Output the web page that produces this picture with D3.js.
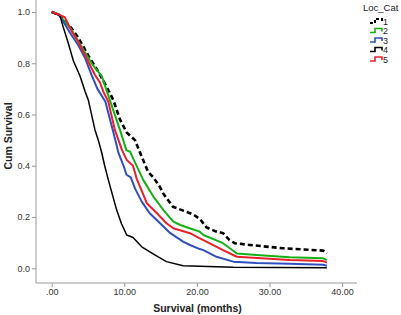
<!DOCTYPE html>
<html>
<head>
<meta charset="utf-8">
<script src="https://cdn.jsdelivr.net/npm/d3@7"></script>
<style>
  body { margin: 0; background: #fff; }
  svg { display: block; font-family: "Liberation Sans", Arial, sans-serif; }
</style>
</head>
<body>
<svg id="chart" width="401" height="315"></svg>
<script>
// Kaplan-Meier curves, months vs cum survival

let categories = ['1', '2', '3', '4', '5']
let colors = ['#000000', '#14b014', '#2f4fbf', '#000000', '#e8202c']

let xTicks = [0, 10, 20, 30, 40]
let xTickLabels = ['.00', '10.00', '20.00', '30.00', '40.00']
let yTicks = [0, 0.2, 0.4, 0.6, 0.8, 1.0]
let yTickLabels = ['0.0', '0.2', '0.4', '0.6', '0.8', '1.0']

let cat1 = [
  [0, 1], [1, 0.99], [2.75, 0.936], [3.66, 0.9], [5.04, 0.83], [6.42, 0.767],
  [7.34, 0.72], [8.48, 0.657], [9.41, 0.58], [10.33, 0.53], [11.47, 0.5],
  [12.4, 0.435], [13.3, 0.375], [14.0, 0.355], [14.9, 0.318], [15.4, 0.29],
  [16.7, 0.24], [18.6, 0.22], [19.5, 0.21], [20.5, 0.19], [21.3, 0.16],
  [22.5, 0.145], [23.6, 0.137], [24.5, 0.11], [25.2, 0.098], [27.3, 0.091],
  [31.9, 0.078], [37.4, 0.069], [37.9, 0.058]
]
let cat2 = [
  [0, 1], [1, 0.99], [2.75, 0.93], [4, 0.87], [5.5, 0.8], [6.9, 0.75],
  [8.0, 0.657], [9.4, 0.54], [10.3, 0.46], [10.8, 0.455], [11.2, 0.43],
  [12.6, 0.345], [14.0, 0.28], [15.4, 0.227], [16.75, 0.182], [17.7, 0.169],
  [19.0, 0.156], [20.4, 0.143], [20.9, 0.13], [23.6, 0.098], [25.5, 0.058],
  [28.2, 0.052], [32.8, 0.043], [37.4, 0.039], [37.9, 0.032]
]
let cat3 = [
  [0, 1], [1, 0.99], [2.5, 0.92], [3.66, 0.87], [4.6, 0.82], [5.5, 0.754],
  [6.3, 0.7], [7.4, 0.65], [8.5, 0.53], [9.2, 0.45], [9.9, 0.4],
  [10.3, 0.365], [10.9, 0.355], [11.5, 0.31], [12.4, 0.26], [13.5, 0.215],
  [14.9, 0.177], [16.3, 0.138], [18.1, 0.104], [19.05, 0.091], [20.4, 0.075],
  [20.9, 0.071], [22.7, 0.045], [25, 0.026], [28.2, 0.021], [32.8, 0.018],
  [37.4, 0.014], [37.9, 0.01]
]
let cat4 = [
  [0, 1], [1.14, 0.985], [1.6, 0.94], [2.3, 0.877], [2.98, 0.81], [3.9, 0.75],
  [4.6, 0.69], [5.04, 0.657], [5.96, 0.54], [6.42, 0.5], [6.9, 0.45],
  [7.3, 0.4], [7.8, 0.345], [8.95, 0.227], [9.6, 0.175], [10.33, 0.13],
  [11.2, 0.12], [12.4, 0.084], [14.2, 0.052], [15.8, 0.026], [18.1, 0.01],
  [25, 0.004], [37.9, 0.002]
]
let cat5 = [
  [0, 1], [1, 0.99], [1.8, 0.98], [2.75, 0.925], [3.66, 0.884], [4.8, 0.82],
  [5.96, 0.754], [6.65, 0.725], [7.1, 0.69], [7.8, 0.65], [8.7, 0.54],
  [9.7, 0.46], [10.33, 0.423], [11.2, 0.4], [11.7, 0.35], [13.1, 0.254],
  [14.5, 0.215], [15.8, 0.176], [16.75, 0.156], [19.05, 0.137], [20.4, 0.117],
  [20.9, 0.11], [23.6, 0.071], [25.5, 0.045], [32.8, 0.032], [37.4, 0.028],
  [37.9, 0.022]
]

let series = [cat1, cat2, cat3, cat4, cat5]

let svg = d3.select('#chart')

let x = d3.scaleLinear().domain([0, 40]).range([51.7, 342.1])
let y = d3.scaleLinear().domain([0, 1]).range([268.3, 12])

let axisColor = '#9a9a9a'
let textColor = '#333'

// axis frame lines
svg.append('line')
  .attr('x1', 36).attr('x2', 36)
  .attr('y1', 0).attr('y2', 283)
  .style('stroke', axisColor)
svg.append('line')
  .attr('x1', 36).attr('x2', 357)
  .attr('y1', 283).attr('y2', 283)
  .style('stroke', axisColor)

// x axis
let xAxis = svg.append('g')
  .attr('transform', 'translate(0, 283)')
  .call(d3.axisBottom(x)
    .tickValues(xTicks)
    .tickFormat((d, i) => xTickLabels[i])
    .tickSize(4)
    .tickSizeOuter(0))
xAxis.select('.domain').remove()
xAxis.selectAll('line').style('stroke', axisColor)
xAxis.selectAll('text')
  .attr('dy', null).attr('y', 12)
  .style('font-size', '9px').style('fill', textColor)
  .style('font-family', '"Liberation Sans", Arial, sans-serif')

// y axis
let yAxis = svg.append('g')
  .attr('transform', 'translate(36, 0)')
  .call(d3.axisLeft(y)
    .tickValues(yTicks)
    .tickFormat((d, i) => yTickLabels[i])
    .tickSize(4)
    .tickSizeOuter(0))
yAxis.select('.domain').remove()
yAxis.selectAll('line').style('stroke', axisColor)
yAxis.selectAll('text')
  .attr('x', -6)
  .style('font-size', '9px').style('fill', textColor)
  .style('font-family', '"Liberation Sans", Arial, sans-serif')

// axis titles
svg.append('text')
  .attr('x', 197.5).attr('y', 311.5)
  .attr('text-anchor', 'middle')
  .style('font-size', '10.5px').style('font-weight', 'bold').style('fill', '#222')
  .text('Survival (months)')

svg.append('text')
  .attr('transform', 'translate(11.5, 136) rotate(-90)')
  .attr('text-anchor', 'middle')
  .style('font-size', '10.5px').style('font-weight', 'bold').style('fill', '#222')
  .text('Cum Survival')

// curves
let line = d3.line(d => x(d[0]), d => y(d[1]))

svg.append('g')
  .attr('id', 'curves')
  .selectAll('path')
  .data(series)
  .join('path')
  .attr('d', line)
  .style('fill', 'none')
  .style('stroke', (d, i) => colors[i])
  .style('stroke-width', (d, i) => i === 0 ? 2.6 : (i === 3 ? 1.5 : 2))
  .style('stroke-dasharray', (d, i) => i === 0 ? '5,3' : null)
  .style('stroke-linejoin', 'round')

// legend
svg.append('text')
  .attr('x', 363).attr('y', 11)
  .style('font-size', '9.5px').style('fill', '#222')
  .text('Loc_Cat')

let legend = svg.append('g')
  .attr('id', 'legend')
  .selectAll('g')
  .data(categories)
  .join('g')
  .attr('transform', (d, i) => `translate(370, ${21 + i * 9.5})`)

legend.append('path')
  .attr('d', 'M0,2 H5 V-2 H12 V1')
  .style('fill', 'none')
  .style('stroke', (d, i) => colors[i])
  .style('stroke-width', (d, i) => i === 0 ? 2 : 1.6)
  .style('stroke-dasharray', (d, i) => i === 0 ? '3,2' : null)

legend.append('text')
  .attr('x', 13).attr('y', 3.5)
  .style('font-size', '9px').style('fill', '#222')
  .text(d => d)
</script>
</body>
</html>
